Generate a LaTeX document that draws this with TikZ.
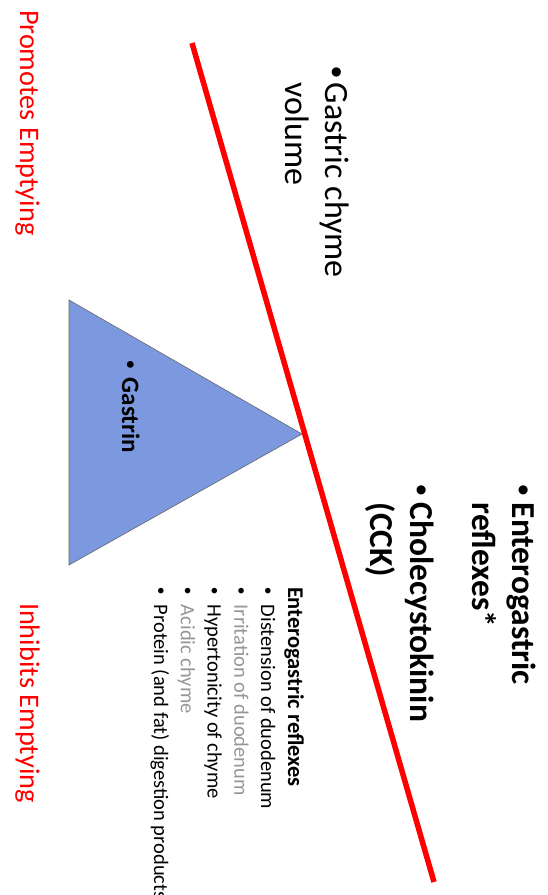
\documentclass[tikz,border=0pt]{standalone}
\usepackage{fontspec}
\setmainfont{Carlito}
\newfontfamily\bulletfont{Liberation Sans}
\definecolor{gastrinblue}{RGB}{124,153,224}
\definecolor{fadegray}{RGB}{150,150,150}
\newcommand\bulletmark{{\bulletfont\mdseries\char"2022}}

\begin{document}
\begin{tikzpicture}[x=1pt,y=-1pt,
  vtext/.style={rotate=-90, anchor=base west, inner sep=0pt, outer sep=0pt},
  sidelabel/.style={vtext, text=red, font=\fontsize{28.3}{34}\selectfont},
  bigtext/.style={vtext, font=\fontsize{34}{40}\selectfont},
  boldtext/.style={bigtext, font=\fontsize{33.5}{40}\selectfont\bfseries},
  gastrintext/.style={vtext, font=\fontsize{25}{30}\selectfont\bfseries},
  smalltext/.style={vtext, font=\fontsize{20.5}{26.8}\selectfont},
  lever/.style={red, line width=5.5pt},
  wedge/.style={fill=gastrinblue, draw=black!60, line width=0.6pt}
]
\useasboundingbox (0,0) rectangle (548,895);

% fulcrum
\filldraw[wedge] (69,300) -- (302,434) -- (69,565) -- cycle;

% lever
\coordinate (levertop) at (192,43);
\coordinate (leverbottom) at (434,882);
\draw[lever] (levertop) -- (leverbottom);

% side labels
\node[sidelabel] (promotes) at (20,10) {Promotes Emptying};
\node[sidelabel] (inhibits) at (20,603) {Inhibits Emptying};

% factors
\node[bigtext] (chyme) at (325,66)
  {\begin{tabular}[t]{@{}l@{\hspace{5pt}}l@{}}\bulletmark & Gastric chyme\\ & volume\end{tabular}};
\node[boldtext] (reflexes) at (512,484)
  {\begin{tabular}[t]{@{}l@{\hspace{7pt}}l@{}}\bulletmark & Enterogastric\\ & reflexes*\end{tabular}};
\node[boldtext] (cck) at (410,484)
  {\begin{tabular}[t]{@{}l@{\hspace{7pt}}l@{}}\bulletmark & Cholecystokinin\\ & (CCK)\end{tabular}};
\node[gastrintext] (gastrin) at (122,360.6)
  {\begin{tabular}[t]{@{}l@{\hspace{8.6pt}}l@{}}\bulletmark & Gastrin\end{tabular}};

% list of triggers
\node[smalltext] (triggers) at (288,587)
  {\begin{tabular}[t]{@{}l@{\hspace{10.6pt}}l@{}}
    \multicolumn{2}{@{}l@{}}{\fontsize{22.5}{26.8}\selectfont\bfseries Enterogastric reflexes}\\
    \bulletmark & Distension of duodenum\\
    \bulletmark & \textcolor{fadegray}{Irritation of duodenum}\\
    \bulletmark & Hypertonicity of chyme\\
    \bulletmark & \textcolor{fadegray}{Acidic chyme}\\
    \bulletmark & Protein (and fat) digestion products
  \end{tabular}};
\end{tikzpicture}
\end{document}
